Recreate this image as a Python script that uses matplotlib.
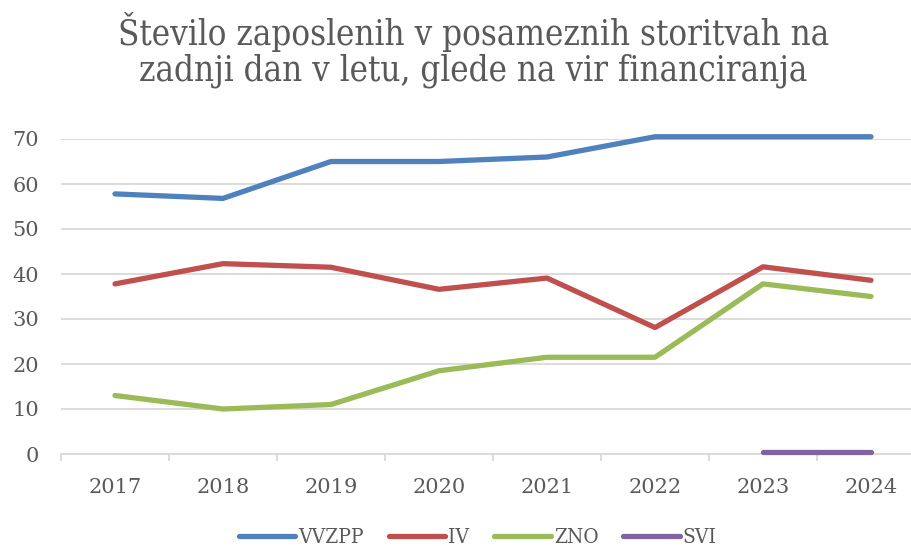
import matplotlib.pyplot as plt

years = ['2017', '2018', '2019', '2020', '2021', '2022', '2023', '2024']
vvzpp = [57.8, 56.8, 65, 65, 66, 70.5, 70.5, 70.5]
iv = [37.8, 42.3, 41.5, 36.6, 39.1, 28.1, 41.6, 38.6]
zno = [13.0, 10.0, 11.0, 18.5, 21.5, 21.5, 37.8, 35.0]
svi = [None, None, None, None, None, None, 0.5, 0.5]

series = [('VVZPP', vvzpp, '#4F81BD'),
          ('IV', iv, '#C0504D'),
          ('ZNO', zno, '#9BBB59'),
          ('SVI', svi, '#8064A2')]

fig = plt.figure(figsize=(9.12, 5.46), dpi=100)
ax = fig.add_axes([61 / 912, 92 / 546, 864 / 912, 315 / 546])

x = list(range(len(years)))
for name, vals, col in series:
    xs = [i for i, v in zip(x, vals) if v is not None]
    ys = [v for v in vals if v is not None]
    ax.plot(xs, ys, color=col, lw=3.8, label=name, solid_capstyle='round',
            solid_joinstyle='round', clip_on=False, zorder=3)

ax.set_xlim(-0.5, 7.5)
ax.set_ylim(0, 70)
ax.set_yticks(range(0, 71, 10))
ax.grid(axis='y', color='#D9D9D9', lw=1.3)
ax.set_axisbelow(True)
for s in ['top', 'right', 'left']:
    ax.spines[s].set_visible(False)
ax.spines['bottom'].set_color('#D9D9D9')
ax.spines['bottom'].set_linewidth(1.3)

ax.set_xticks(x)
ax.set_xticklabels(years)
ax.set_xticks([i + 0.5 for i in range(-1, 8)], minor=True)
ax.tick_params(axis='x', which='major', length=0, pad=17)
ax.tick_params(axis='x', which='minor', length=5, width=1.3, color='#D9D9D9')
ax.tick_params(axis='y', length=0, pad=16)
for lab in ax.get_xticklabels() + ax.get_yticklabels():
    lab.set_fontfamily('DejaVu Serif')
    lab.set_fontsize(15)
    lab.set_color('#595959')

fig.suptitle('Število zaposlenih v posameznih storitvah na\nzadnji dan v letu, glede na vir financiranja',
             x=0.519, y=0.978, fontsize=25, color='#595959', family='DejaVu Serif',
             fontstretch='condensed', linespacing=1.07)

leg = fig.legend(loc='center', bbox_to_anchor=(0.524, 0.015), ncol=4, frameon=False,
                 prop={'family': 'DejaVu Serif', 'stretch': 'condensed', 'size': 15},
                 handlelength=2.7, handletextpad=0.15, columnspacing=1.2)
for t in leg.get_texts():
    t.set_color('#595959')

fig.savefig('out.png', dpi=100)
